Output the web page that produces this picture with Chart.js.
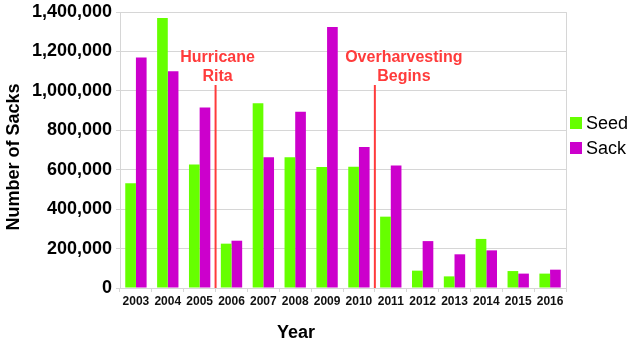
<!DOCTYPE html>
<html>
<head>
<meta charset="utf-8">
<script src="https://cdn.jsdelivr.net/npm/chart.js@4/dist/chart.umd.min.js"></script>
<style>
  html, body { margin: 0; padding: 0; background: #fff; }
  #wrap { width: 640px; height: 347px; }
</style>
</head>
<body>
<div id="wrap"><canvas id="sacksChart" width="640" height="347"></canvas></div>
<script>
let years = ['2003', '2004', '2005', '2006', '2007', '2008', '2009', '2010', '2011', '2012', '2013', '2014', '2015', '2016']
let seedSacks = [531000, 1370000, 627000, 225000, 937000, 664000, 614000, 615000, 362000, 88000, 59000, 249000, 86000, 73000]
let sackSacks = [1170000, 1100000, 916000, 240000, 664000, 894000, 1325000, 715000, 622000, 238000, 171000, 191000, 73000, 93000]
let yTicks = [0, 200000, 400000, 600000, 800000, 1000000, 1200000, 1400000]

// events marked between two seasons: red line starts at lineTop (in sacks)
let events = [
    { text: ['Hurricane', 'Rita'], after: '2005', lineTop: 1030000, shift: 2 },
    { text: ['Overharvesting', 'Begins'], after: '2010', lineTop: 1030000, shift: 29 }
]

const FONT = "'Liberation Sans', Arial, sans-serif"
const gridGray = '#d6d6d6'

// red event lines + captions, placed with the chart's own scales
const eventLines = {
    id: 'eventLines',
    afterDatasetsDraw(chart) {
        let ctx = chart.ctx
        let x = chart.scales.x
        let y = chart.scales.y
        ctx.save()
        events.forEach(ev => {
            let i = years.indexOf(ev.after)
            let lx = (x.getPixelForValue(i) + x.getPixelForValue(i + 1)) / 2
            let top = y.getPixelForValue(ev.lineTop)
            ctx.strokeStyle = '#ff3b3b'
            ctx.lineWidth = 2
            ctx.beginPath()
            ctx.moveTo(lx, top)
            ctx.lineTo(lx, y.getPixelForValue(0))
            ctx.stroke()

            ctx.fillStyle = '#ff3b3b'
            ctx.font = 'bold 16px ' + FONT
            ctx.textAlign = 'center'
            ctx.textBaseline = 'middle'
            ctx.fillText(ev.text[0], lx + ev.shift, top - 27)
            ctx.fillText(ev.text[1], lx + ev.shift, top - 8)
        })
        ctx.restore()
    }
}

// axis titles sit a little off the axis centres
const axisTitles = {
    id: 'axisTitles',
    afterDraw(chart) {
        let ctx = chart.ctx
        ctx.save()
        ctx.fillStyle = '#000'
        ctx.font = 'bold 18px ' + FONT
        ctx.textAlign = 'center'
        ctx.textBaseline = 'middle'
        ctx.fillText('Year', 296, 333)
        ctx.translate(14, 157)
        ctx.rotate(-Math.PI / 2)
        ctx.fillText('Number of Sacks', 0, 0)
        ctx.restore()
    }
}

// compact legend to the right of the plot (box close to the text)
const sideLegend = {
    id: 'sideLegend',
    afterDraw(chart) {
        let ctx = chart.ctx
        let left = chart.chartArea.right + 4
        ctx.save()
        ctx.font = '18px ' + FONT
        ctx.textBaseline = 'middle'
        ctx.textAlign = 'left'
        chart.data.datasets.forEach((ds, i) => {
            let cy = 123 + i * 25
            ctx.fillStyle = ds.backgroundColor
            ctx.fillRect(left, cy - 6, 12, 12)
            ctx.fillStyle = '#000'
            ctx.fillText(ds.label, left + 16, cy + 1)
        })
        ctx.restore()
    }
}

let sacksChart = new Chart(document.getElementById('sacksChart'), {
    type: 'bar',
    data: {
        labels: years,
        datasets: [
            { label: 'Seed', data: seedSacks, backgroundColor: '#66ff00' },
            { label: 'Sack', data: sackSacks, backgroundColor: '#cc00cc' }
        ]
    },
    options: {
        responsive: false,
        animation: false,
        locale: 'en-US',
        layout: { padding: { right: 74 } },
        datasets: {
            bar: { categoryPercentage: 0.67, barPercentage: 1.0 }
        },
        plugins: {
            tooltip: { enabled: false },
            legend: { display: false }
        },
        scales: {
            x: {
                afterFit(scale) { scale.height = 59 },
                grid: {
                    offset: true,
                    color: c => c.type === 'tick' ? 'transparent' : gridGray,
                    tickColor: gridGray,
                    tickLength: 4
                },
                border: { color: gridGray },
                ticks: {
                    autoSkip: false,
                    maxRotation: 0,
                    padding: 2,
                    color: '#111',
                    font: { family: FONT, size: 12, weight: 'bold' }
                }
            },
            y: {
                min: 0,
                max: 1400000,
                afterFit(scale) { scale.width = 120 },
                afterBuildTicks(scale) { scale.ticks = yTicks.map(v => ({ value: v })) },
                grid: { color: gridGray, tickColor: gridGray, tickLength: 4 },
                border: { color: gridGray },
                ticks: {
                    padding: 4,
                    color: '#000',
                    font: { family: FONT, size: 18, weight: 'bold', lineHeight: 0.9 },
                    callback: v => v.toLocaleString('en-US')
                }
            }
        }
    },
    plugins: [eventLines, axisTitles, sideLegend]
})
</script>
</body>
</html>
